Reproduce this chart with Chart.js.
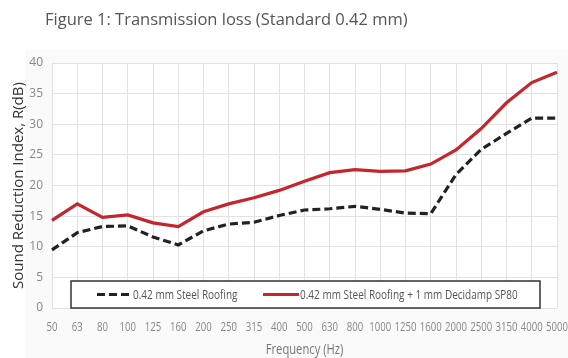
<!DOCTYPE html>
<html>
<head>
<meta charset="utf-8">
<script src="https://cdn.jsdelivr.net/npm/chart.js@4.4.1/dist/chart.umd.min.js"></script>
<style>
  html, body { margin: 0; padding: 0; background: #ffffff; }
  #wrap { width: 568px; height: 358px; position: relative; }
</style>
</head>
<body>
<div id="wrap"><canvas id="chart" width="568" height="358"></canvas></div>
<script>
// One-third octave band centre frequencies (Hz)
const frequencies = ['50', '63', '80', '100', '125', '160', '200', '250', '315', '400', '500',
                     '630', '800', '1000', '1250', '1600', '2000', '2500', '3150', '4000', '5000'];

// Sound reduction index R (dB)
const steelRoofing = [9.5, 12.3, 13.3, 13.4, 11.6, 10.3, 12.6, 13.7, 14.0, 15.1, 16.0,
                      16.2, 16.6, 16.1, 15.5, 15.4, 21.8, 25.9, 28.5, 31.0, 31.0];
const steelWithDecidamp = [14.3, 17.0, 14.8, 15.2, 13.9, 13.3, 15.7, 17.0, 18.0, 19.2, 20.7,
                           22.1, 22.6, 22.3, 22.4, 23.5, 25.8, 29.3, 33.5, 36.8, 38.5];

const seriesLabels = ['0.42 mm Steel Roofing', '0.42 mm Steel Roofing + 1 mm Decidamp SP80'];
const chartTitle = 'Figure 1: Transmission loss (Standard 0.42 mm)';
const yAxisTitle = 'Sound Reduction Index, R(dB)';
const xAxisTitle = 'Frequency (Hz)';

const bodyFont = "'Open Sans', 'Noto Sans', sans-serif";
const CONDENSE = 0.8; // horizontal squeeze for the narrow label face

// Draw text squeezed horizontally, centred or left-aligned at (x, y)
function condensedText(ctx, text, x, y, align) {
  ctx.save();
  ctx.translate(x, y);
  ctx.scale(CONDENSE, 1);
  ctx.textAlign = align;
  ctx.textBaseline = 'middle';
  ctx.fillText(text, 0, 0);
  ctx.restore();
}

// Light panel behind the plot and the heading text
const panelAndTitle = {
  id: 'panelAndTitle',
  beforeDraw(chart) {
    const ctx = chart.ctx;
    ctx.save();
    ctx.fillStyle = '#fafafa';
    ctx.fillRect(25, 50, chart.width - 25, chart.height - 50);
    ctx.fillStyle = '#ffffff';
    const a = chart.chartArea;
    ctx.fillRect(a.left, a.top, a.right - a.left, a.bottom - a.top);
    ctx.fillStyle = '#555555';
    ctx.font = "16.5px " + bodyFont;
    ctx.textBaseline = 'middle';
    ctx.textAlign = 'left';
    ctx.fillText(chartTitle, 45, 20);
    ctx.restore();
  }
};

// Category labels and title under the x axis, set in a narrow face
const xAxisText = {
  id: 'xAxisText',
  afterDraw(chart) {
    const ctx = chart.ctx;
    const xs = chart.scales.x;
    const a = chart.chartArea;
    ctx.save();
    ctx.fillStyle = '#888888';
    ctx.font = "12px " + bodyFont;
    chart.data.labels.forEach((lab, i) => {
      condensedText(ctx, lab, xs.getPixelForTick(i), a.bottom + 20, 'center');
    });
    ctx.fillStyle = '#777777';
    ctx.font = "14px " + bodyFont;
    condensedText(ctx, xAxisTitle, (a.left + a.right) / 2, 350, 'center');
    ctx.restore();
  }
};

// Boxed legend sitting inside the bottom of the plot area
const boxedLegend = {
  id: 'boxedLegend',
  afterDatasetsDraw(chart) {
    const ctx = chart.ctx;
    const a = chart.chartArea;
    const x0 = 71, x1 = 540, y0 = 281, y1 = a.bottom;
    const yMid = (y0 + y1) / 2;
    ctx.save();
    ctx.fillStyle = '#ffffff';
    ctx.fillRect(x0, y0, x1 - x0, y1 - y0);
    ctx.strokeStyle = '#333333';
    ctx.lineWidth = 1.5;
    ctx.strokeRect(x0, y0, x1 - x0, y1 - y0);

    const items = [
      { ds: chart.data.datasets[0], lx0: 97, lx1: 129, tx: 133 },
      { ds: chart.data.datasets[1], lx0: 263, lx1: 299, tx: 300 }
    ];
    ctx.font = "12.5px " + bodyFont;
    items.forEach(it => {
      ctx.beginPath();
      ctx.setLineDash(it.ds.borderDash || []);
      ctx.strokeStyle = it.ds.borderColor;
      ctx.lineWidth = it.ds.borderWidth;
      ctx.moveTo(it.lx0, yMid);
      ctx.lineTo(it.lx1, yMid);
      ctx.stroke();
      ctx.setLineDash([]);
      ctx.fillStyle = '#555555';
      condensedText(ctx, it.ds.label, it.tx, yMid + 0.5, 'left');
    });
    ctx.restore();
  }
};

new Chart(document.getElementById('chart'), {
  type: 'line',
  data: {
    labels: frequencies,
    datasets: [
      {
        label: seriesLabels[0],
        data: steelRoofing,
        borderColor: '#222222',
        borderWidth: 3.2,
        borderDash: [8, 4],
        pointRadius: 0,
        tension: 0,
        fill: false
      },
      {
        label: seriesLabels[1],
        data: steelWithDecidamp,
        borderColor: '#c4262e',
        borderWidth: 3.2,
        pointRadius: 0,
        tension: 0,
        fill: false
      }
    ]
  },
  options: {
    responsive: false,
    animation: false,
    layout: { padding: { top: 63, left: 0, right: 11, bottom: 0 } },
    plugins: {
      legend: { display: false },
      title: { display: false },
      tooltip: { enabled: false }
    },
    scales: {
      x: {
        offset: false,
        grid: { color: '#e2e2e2', lineWidth: 1, drawTicks: false },
        border: { display: false },
        ticks: { display: false, autoSkip: false },
        afterFit(scale) {
          scale.height = 50;
          scale.paddingLeft = 0;
          scale.paddingRight = 0;
        }
      },
      y: {
        min: 0, max: 40,
        grid: { color: '#e2e2e2', lineWidth: 1, drawTicks: false },
        border: { display: false },
        ticks: {
          stepSize: 5, padding: 9, color: '#888888',
          font: { family: bodyFont, size: 12 }
        },
        title: {
          display: true, text: yAxisTitle, color: '#333333',
          font: { family: bodyFont, size: 15 },
          padding: { top: 10, bottom: 0 }
        },
        afterFit(scale) { scale.width = 52; }
      }
    }
  },
  plugins: [panelAndTitle, boxedLegend, xAxisText]
});
</script>
</body>
</html>
